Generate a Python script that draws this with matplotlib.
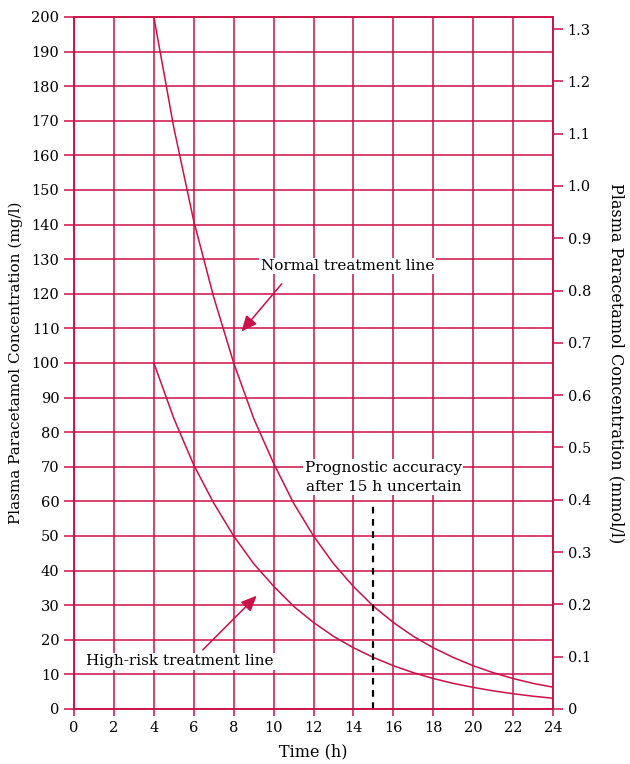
import numpy as np
import matplotlib.pyplot as plt

# readings from the nomogram (time in h, concentration in mg/l)
hours = [4, 5, 6, 7, 8, 9, 10, 11, 12, 13, 14, 15, 16, 17, 18, 19, 20, 21, 22, 23, 24]
normal_line = [200, 168, 141, 119, 100, 84, 71, 59.5, 50, 42, 35.4, 29.7, 25, 21, 17.7,
               14.9, 12.5, 10.5, 8.8, 7.4, 6.3]
high_risk_line = [100, 84, 70.5, 59.5, 50, 42, 35.5, 29.7, 25, 21, 17.7, 14.9, 12.5, 10.5,
                  8.8, 7.4, 6.25, 5.25, 4.4, 3.7, 3.1]
cutoff_time = 15
cutoff_top = 59.5
mg_per_mmol = 151.16

red = '#cc1048'
plt.rcParams['font.family'] = 'DejaVu Serif'
plt.rcParams['font.size'] = 10.5

fig = plt.figure(figsize=(6.3, 7.64), dpi=100)
ax = fig.add_axes([0.1175, 0.072, 0.7603, 0.9058])

ax.set_xlim(0, 24)
ax.set_ylim(0, 200)
ax.set_xticks(np.arange(0, 25, 2))
ax.set_yticks(np.arange(0, 201, 10))
ax.grid(True, color=red, linewidth=1.1)
ax.tick_params(axis='both', colors=red, labelcolor='black', width=1.1)
ax.tick_params(axis='y', length=7)
ax.tick_params(axis='x', length=5)
for s in ax.spines.values():
    s.set_color(red)
    s.set_linewidth(1.1)

ax.plot(hours, normal_line, color=red, linewidth=1.1)
ax.plot(hours, high_risk_line, color=red, linewidth=1.1)
ax.plot([cutoff_time, cutoff_time], [0, cutoff_top], color='black', linestyle=(0, (3, 2.5)),
        linewidth=1.6)

ax.set_xlabel('Time (h)', fontsize=11.5, labelpad=6)
ax.set_ylabel('Plasma Paracetamol Concentration (mg/l)', fontsize=11, labelpad=6)

ax2 = ax.twinx()
ax2.set_ylim(0, 200 / mg_per_mmol)
ax2.set_yticks(np.arange(0, 1.31, 0.1))
ax2.set_yticklabels(['0'] + ['%.1f' % v for v in np.arange(0.1, 1.31, 0.1)])
ax2.tick_params(axis='y', colors=red, labelcolor='black', length=7, width=1.1)
for s in ax2.spines.values():
    s.set_color(red)
    s.set_linewidth(1.1)
ax2.set_ylabel('Plasma Paracetamol Concentration (mmol/l)', fontsize=11.5, rotation=270,
               labelpad=24)

box = dict(facecolor='white', edgecolor='none', pad=1)
ax.annotate('', xy=(8.3, 108.5), xytext=(10.5, 123.5),
            arrowprops=dict(arrowstyle='-|>,head_length=0.9,head_width=0.4', color=red, lw=1.1))
ax.text(13.7, 128, 'Normal treatment line', fontsize=11, ha='center', va='center',
        bbox=box, zorder=5)
ax.annotate('', xy=(9.25, 33.3), xytext=(6.35, 16.5),
            arrowprops=dict(arrowstyle='-|>,head_length=0.9,head_width=0.4', color=red, lw=1.1))
ax.text(5.3, 13.8, 'High-risk treatment line', fontsize=11, ha='center', va='center',
        bbox=box, zorder=5)
ax.text(15.5, 67, 'Prognostic accuracy\nafter 15 h uncertain', fontsize=11, ha='center',
        va='center', linespacing=1.45, bbox=box, zorder=5)

fig.savefig('out.png', dpi=100)
